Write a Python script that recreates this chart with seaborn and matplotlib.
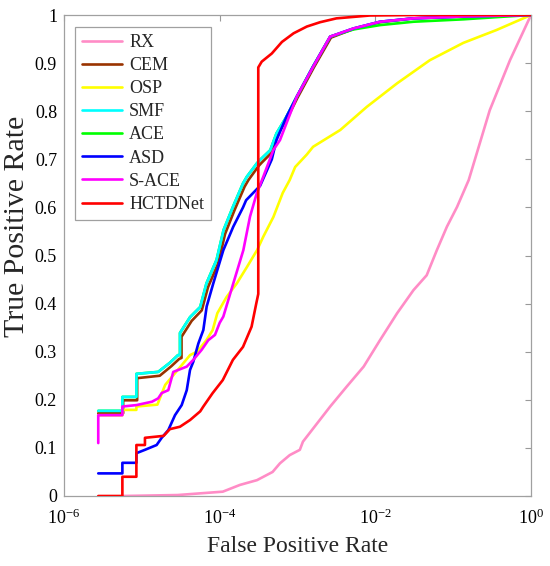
import numpy as np
import pandas as pd
import matplotlib
matplotlib.use("Agg")
import matplotlib.pyplot as plt
import seaborn as sns
from matplotlib.ticker import FixedLocator, NullLocator, FuncFormatter

# ROC curves; FPR kept as log10 values
rx_lfpr = [-5.25, -4.54, -3.96, -3.74, -3.52, -3.32, -3.225, -3.10, -2.97, -2.93, -2.58, -2.37,
           -2.15, -1.94, -1.72, -1.51, -1.34, -1.21, -1.08, -0.95, -0.80, -0.53, -0.27, 0.0]
rx_tpr = [0.0, 0.002, 0.009, 0.023, 0.033, 0.05, 0.068, 0.085, 0.096, 0.113, 0.186, 0.227,
          0.269, 0.324, 0.38, 0.428, 0.459, 0.511, 0.56, 0.601, 0.657, 0.802, 0.906, 1.0]

cem_lfpr = [-5.56, -5.24, -5.24, -5.06, -5.06, -4.77, -4.62, -4.52, -4.49, -4.49, -4.36, -4.23,
            -4.15, -4.02, -3.93, -3.81, -3.68, -3.63, -3.50, -3.46, -3.33, -3.26, -3.13, -3.00,
            -2.79, -2.57, -2.28, -1.94, -1.51, -0.87, 0.0]
cem_tpr = [0.172, 0.172, 0.199, 0.199, 0.245, 0.25, 0.27, 0.285, 0.287, 0.331, 0.364, 0.386,
           0.434, 0.483, 0.545, 0.594, 0.643, 0.657, 0.686, 0.693, 0.714, 0.75, 0.786, 0.828,
           0.891, 0.953, 0.971, 0.985, 0.993, 0.997, 1.0]

osp_lfpr = [-5.56, -5.25, -5.25, -5.07, -5.07, -4.80, -4.70, -4.57, -4.38, -4.29, -4.17, -4.09,
            -4.03, -3.91, -3.78, -3.65, -3.52, -3.44, -3.31, -3.19, -3.10, -3.03, -2.88, -2.80,
            -2.45, -2.11, -1.72, -1.30, -0.87, -0.44, 0.0]
osp_tpr = [0.168, 0.168, 0.179, 0.179, 0.186, 0.19, 0.231, 0.256, 0.293, 0.30, 0.324, 0.345,
           0.38, 0.414, 0.442, 0.476, 0.511, 0.539, 0.58, 0.63, 0.657, 0.684, 0.71, 0.726,
           0.761, 0.809, 0.858, 0.906, 0.942, 0.969, 1.0]

smf_lfpr = [-5.56, -5.25, -5.25, -5.07, -5.07, -4.79, -4.64, -4.535, -4.51, -4.51, -4.38, -4.25,
            -4.17, -4.04, -3.95, -3.83, -3.70, -3.65, -3.52, -3.48, -3.35, -3.27, -3.14, -3.01,
            -2.80, -2.58, -2.28, -1.94, -1.51, -0.87, 0.0]
smf_tpr = [0.177, 0.177, 0.206, 0.206, 0.254, 0.258, 0.277, 0.293, 0.293, 0.339, 0.372, 0.393,
           0.442, 0.491, 0.553, 0.601, 0.65, 0.664, 0.692, 0.699, 0.719, 0.754, 0.789, 0.83,
           0.893, 0.955, 0.972, 0.986, 0.993, 0.997, 1.0]

ace_lfpr = [-5.56, -5.25, -5.25, -5.07, -5.07, -4.79, -4.64, -4.535, -4.51, -4.51, -4.38, -4.25,
            -4.17, -4.04, -3.95, -3.83, -3.70, -3.65, -3.52, -3.48, -3.35, -3.27, -3.14, -3.01,
            -2.80, -2.58, -2.28, -1.94, -1.51, -0.87, -0.40, 0.0]
ace_tpr = [0.177, 0.177, 0.206, 0.206, 0.254, 0.258, 0.277, 0.293, 0.293, 0.339, 0.372, 0.393,
           0.442, 0.491, 0.553, 0.601, 0.65, 0.664, 0.692, 0.699, 0.719, 0.754, 0.789, 0.83,
           0.893, 0.955, 0.970, 0.979, 0.986, 0.991, 0.996, 1.0]

asd_lfpr = [-5.56, -5.25, -5.25, -5.07, -5.07, -4.96, -4.81, -4.745, -4.66, -4.574, -4.488, -4.423,
            -4.381, -4.339, -4.274, -4.21, -4.167, -4.082, -3.953, -3.825, -3.70, -3.66, -3.48,
            -3.33, -3.27, -3.14, -3.01, -2.80, -2.58, -2.28, -1.94, -1.51, -0.87, 0.0]
asd_tpr = [0.047, 0.047, 0.069, 0.069, 0.089, 0.096, 0.106, 0.121, 0.137, 0.168, 0.189, 0.22,
           0.262, 0.279, 0.317, 0.345, 0.394, 0.442, 0.511, 0.56, 0.60, 0.615, 0.645,
           0.70, 0.74, 0.789, 0.83, 0.893, 0.955, 0.972, 0.986, 0.993, 0.997, 1.0]

sace_lfpr = [-5.56, -5.56, -5.25, -5.25, -5.07, -4.87, -4.79, -4.745, -4.66, -4.596, -4.423, -4.339,
             -4.231, -4.146, -4.06, -4.00, -3.953, -3.825, -3.696, -3.61, -3.524, -3.439, -3.311,
             -3.225, -3.01, -2.797, -2.582, -2.283, -1.94, -1.51, -0.87, 0.0]
sace_tpr = [0.11, 0.168, 0.168, 0.186, 0.189, 0.196, 0.203, 0.214, 0.22, 0.258, 0.269, 0.283,
            0.304, 0.324, 0.335, 0.36, 0.373, 0.442, 0.511, 0.581, 0.629, 0.664, 0.719,
            0.74, 0.83, 0.893, 0.955, 0.972, 0.986, 0.993, 0.997, 1.0]

hct_lfpr = [-5.56, -5.25, -5.25, -5.07, -5.07, -4.96, -4.96, -4.72, -4.64, -4.51, -4.38, -4.25,
            -4.21, -4.09, -3.96, -3.83, -3.70, -3.59, -3.53, -3.504, -3.504, -3.46, -3.33, -3.20,
            -3.05, -2.88, -2.71, -2.50, -2.07, -1.5, 0.0]
hct_tpr = [0.0, 0.0, 0.04, 0.04, 0.106, 0.106, 0.121, 0.125, 0.139, 0.144, 0.158, 0.176,
           0.186, 0.214, 0.241, 0.283, 0.31, 0.352, 0.40, 0.42, 0.891, 0.903, 0.92, 0.944,
           0.962, 0.976, 0.985, 0.993, 0.999, 1.0, 1.0]

methods = ["RX", "CEM", "OSP", "SMF", "ACE", "ASD", "S-ACE", "HCTDNet"]
curves = [(rx_lfpr, rx_tpr), (cem_lfpr, cem_tpr), (osp_lfpr, osp_tpr), (smf_lfpr, smf_tpr),
          (ace_lfpr, ace_tpr), (asd_lfpr, asd_tpr), (sace_lfpr, sace_tpr), (hct_lfpr, hct_tpr)]
colors = ["#ff8cc6", "#993300", "#ffff00", "#00ffff", "#00ff00", "#0000ff", "#ff00ff", "#ff0000"]
zorders = [2, 3, 4, 6, 5, 7, 8, 9]

sns.set_theme(style="white")
plt.rcParams["font.family"] = ["Liberation Serif", "DejaVu Serif"]
plt.rcParams["mathtext.fontset"] = "custom"
plt.rcParams["mathtext.rm"] = "Liberation Serif"
plt.rcParams["axes.unicode_minus"] = True

fig = plt.figure(figsize=(5.5, 5.66), dpi=100)
ax = fig.add_axes([64 / 550, 70 / 566, 467 / 550, 481 / 566])

for name, (lx, ty), c, z in zip(methods, curves, colors, zorders):
    df = pd.DataFrame({"fpr": np.power(10.0, lx), "tpr": ty})
    sns.lineplot(data=df, x="fpr", y="tpr", sort=False, estimator=None, color=c,
                 linewidth=1.9, label=name, ax=ax, zorder=z)

ax.set_xscale("log")
ax.set_xlim(1e-6, 1)
ax.set_ylim(0, 1)
ax.xaxis.set_major_locator(FixedLocator([1e-6, 1e-4, 1e-2, 1]))
ax.xaxis.set_minor_locator(NullLocator())
ax.set_yticks(np.arange(0, 1.01, 0.1))
ax.yaxis.set_major_formatter(FuncFormatter(lambda v, p: "%g" % round(v, 1)))
ax.tick_params(direction="in", length=4, width=0.8, color="#999999", top=True, right=True,
               labelsize=13, labelcolor="black", pad=5)
ax.tick_params(axis="x", pad=9)
for s in ax.spines.values():
    s.set_color("#a0a0a0")
    s.set_linewidth(0.9)

ax.set_xlabel("False Positive Rate", fontsize=17, labelpad=6)
ax.set_ylabel("True Positive Rate", fontsize=21.5)
ax.yaxis.set_label_coords(-0.072, 0.561)

leg = ax.legend(loc="upper left", bbox_to_anchor=(0.0236, 0.975), borderaxespad=0,
                fontsize=13, frameon=True, fancybox=False, framealpha=1, handlelength=2.2,
                handletextpad=0.42, labelspacing=0.34, borderpad=0.38)
leg.get_frame().set_edgecolor("#a0a0a0")
leg.get_frame().set_linewidth(0.9)

fig.savefig("out.png", dpi=100)
